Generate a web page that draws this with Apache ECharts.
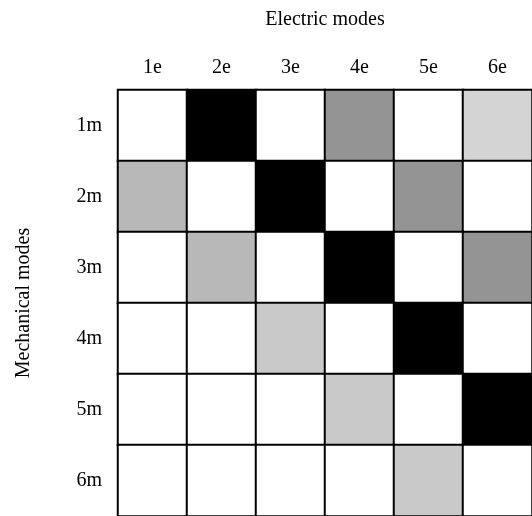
<!DOCTYPE html>
<html>
<head>
<meta charset="utf-8">
<script src="https://cdn.jsdelivr.net/npm/echarts@6/dist/echarts.min.js"></script>
<style>
  html, body { margin: 0; padding: 0; background: #fff; }
  #chart { width: 532px; height: 516px; }
</style>
</head>
<body>
<div id="chart"></div>
<script>
const electricModes = ["1e", "2e", "3e", "4e", "5e", "6e"];
const mechanicalModes = ["1m", "2m", "3m", "4m", "5m", "6m"];

// coupling strength per mechanical mode (row), one value per electric mode
const row1m = [0, 1, 0, 0.42, 0, 0.17];
const row2m = [0.28, 0, 1, 0, 0.42, 0];
const row3m = [0, 0.28, 0, 1, 0, 0.42];
const row4m = [0, 0, 0.21, 0, 1, 0];
const row5m = [0, 0, 0, 0.21, 0, 1];
const row6m = [0, 0, 0, 0, 0.21, 0];
const rows = [row1m, row2m, row3m, row4m, row5m, row6m];

const font = "'Liberation Serif', 'DejaVu Serif', serif";

const cells = [];
rows.forEach((row, r) => {
  row.forEach((v, c) => cells.push([c, r, v]));
});

const chart = echarts.init(document.getElementById("chart"), null, { renderer: "canvas" });

chart.setOption({
  animation: false,
  backgroundColor: "#fff",
  grid: { left: 118, top: 90, width: 418, height: 428 },
  xAxis: {
    type: "category",
    position: "top",
    data: electricModes,
    name: "Electric modes",
    nameLocation: "middle",
    nameGap: 60,
    nameTextStyle: { fontFamily: font, fontSize: 20, color: "#000" },
    axisLine: { show: false },
    axisTick: { show: false },
    splitLine: { show: false },
    axisLabel: { fontFamily: font, fontSize: 20, color: "#000", margin: 12 },
  },
  yAxis: {
    type: "category",
    inverse: true,
    data: mechanicalModes,
    name: "Mechanical modes",
    nameLocation: "middle",
    nameRotate: 90,
    nameGap: 84,
    nameTextStyle: { fontFamily: font, fontSize: 20, color: "#000" },
    axisLine: { show: false },
    axisTick: { show: false },
    splitLine: { show: false },
    axisLabel: { fontFamily: font, fontSize: 20, color: "#000", margin: 16 },
  },
  visualMap: {
    show: false,
    type: "continuous",
    min: 0,
    max: 1,
    dimension: 2,
    inRange: { color: ["#ffffff", "#000000"] },
  },
  series: [
    {
      type: "heatmap",
      data: cells,
      itemStyle: { borderColor: "#000", borderWidth: 2 },
      emphasis: { disabled: true },
    },
  ],
});
</script>
</body>
</html>
